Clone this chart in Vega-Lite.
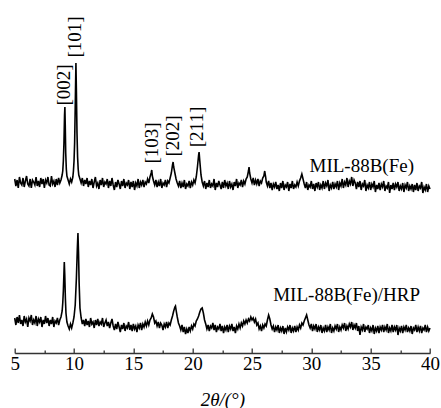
{
"$schema":"https://vega.github.io/schema/vega-lite/v6.json",
"width":415.3,"height":353,
"autosize":{"type":"none"},
"padding":{"left":14.7,"top":0,"right":11,"bottom":55},
"background":"white",
"config":{"view":{"stroke":null},"font":"Times New Roman"},
"datasets":{
"fe":[{"x":5.0,"y":174},{"x":5.1,"y":167},{"x":5.2,"y":173},{"x":5.3,"y":165},{"x":5.4,"y":176},{"x":5.5,"y":170},{"x":5.6,"y":168},{"x":5.7,"y":175},{"x":5.8,"y":166},{"x":5.9,"y":172},
{"x":6.0,"y":177},{"x":6.1,"y":169},{"x":6.2,"y":167},{"x":6.3,"y":174},{"x":6.4,"y":165},{"x":6.5,"y":173},{"x":6.6,"y":171},{"x":6.7,"y":168},{"x":6.8,"y":176},{"x":6.9,"y":167},
{"x":7.0,"y":172},{"x":7.1,"y":166},{"x":7.2,"y":175},{"x":7.3,"y":169},{"x":7.4,"y":174},{"x":7.5,"y":165},{"x":7.6,"y":173},{"x":7.7,"y":170},{"x":7.8,"y":176},{"x":7.9,"y":168},
{"x":8.0,"y":167},{"x":8.1,"y":177},{"x":8.2,"y":169},{"x":8.3,"y":172},{"x":8.4,"y":166},{"x":8.5,"y":174},{"x":8.6,"y":168},{"x":8.7,"y":175},{"x":8.8,"y":170},{"x":8.9,"y":173},
{"x":9.0,"y":178},{"x":9.05,"y":182},{"x":9.1,"y":192},{"x":9.15,"y":210},{"x":9.2,"y":238},{"x":9.23,"y":246},{"x":9.26,"y":228},{"x":9.3,"y":200},{"x":9.35,"y":184},{"x":9.4,"y":177},{"x":9.5,"y":173},{"x":9.6,"y":169},{"x":9.7,"y":174},{"x":9.8,"y":171},{"x":9.9,"y":176},
{"x":9.95,"y":182},{"x":10.0,"y":192},{"x":10.05,"y":210},{"x":10.1,"y":245},{"x":10.16,"y":290},{"x":10.2,"y":262},{"x":10.25,"y":220},{"x":10.3,"y":196},{"x":10.35,"y":184},{"x":10.4,"y":178},{"x":10.5,"y":174},{"x":10.6,"y":170},{"x":10.7,"y":175},{"x":10.8,"y":167},{"x":10.9,"y":173},
{"x":11.0,"y":169},{"x":11.1,"y":175},{"x":11.2,"y":166},{"x":11.3,"y":172},{"x":11.4,"y":168},{"x":11.5,"y":174},{"x":11.6,"y":165},{"x":11.7,"y":171},{"x":11.8,"y":176},{"x":11.9,"y":167},
{"x":12.0,"y":170},{"x":12.1,"y":164},{"x":12.2,"y":173},{"x":12.3,"y":168},{"x":12.4,"y":175},{"x":12.5,"y":166},{"x":12.6,"y":171},{"x":12.7,"y":169},{"x":12.8,"y":174},{"x":12.9,"y":165},
{"x":13.0,"y":172},{"x":13.1,"y":167},{"x":13.2,"y":175},{"x":13.3,"y":168},{"x":13.4,"y":163},{"x":13.5,"y":171},{"x":13.6,"y":166},{"x":13.7,"y":173},{"x":13.8,"y":169},{"x":13.9,"y":164},
{"x":14.0,"y":172},{"x":14.1,"y":167},{"x":14.2,"y":174},{"x":14.3,"y":165},{"x":14.4,"y":170},{"x":14.5,"y":168},{"x":14.6,"y":173},{"x":14.7,"y":164},{"x":14.8,"y":171},{"x":14.9,"y":166},
{"x":15.0,"y":172},{"x":15.1,"y":163},{"x":15.2,"y":170},{"x":15.3,"y":167},{"x":15.4,"y":174},{"x":15.5,"y":165},{"x":15.6,"y":171},{"x":15.7,"y":168},{"x":15.8,"y":173},{"x":15.9,"y":166},
{"x":16.0,"y":171},{"x":16.1,"y":169},{"x":16.2,"y":174},{"x":16.3,"y":170},{"x":16.4,"y":176},{"x":16.5,"y":180},{"x":16.55,"y":183},{"x":16.6,"y":177},{"x":16.7,"y":172},{"x":16.8,"y":168},{"x":16.9,"y":173},
{"x":17.0,"y":166},{"x":17.1,"y":171},{"x":17.2,"y":167},{"x":17.3,"y":174},{"x":17.4,"y":165},{"x":17.5,"y":170},{"x":17.6,"y":168},{"x":17.7,"y":173},{"x":17.8,"y":166},{"x":17.9,"y":172},
{"x":18.0,"y":170},{"x":18.1,"y":175},{"x":18.2,"y":180},{"x":18.3,"y":188},{"x":18.35,"y":191},{"x":18.4,"y":186},{"x":18.5,"y":180},{"x":18.6,"y":174},{"x":18.7,"y":170},{"x":18.8,"y":167},{"x":18.9,"y":172},
{"x":19.0,"y":165},{"x":19.1,"y":170},{"x":19.2,"y":166},{"x":19.3,"y":173},{"x":19.4,"y":164},{"x":19.5,"y":169},{"x":19.6,"y":167},{"x":19.7,"y":172},{"x":19.8,"y":165},{"x":19.9,"y":171},
{"x":20.0,"y":168},{"x":20.1,"y":173},{"x":20.2,"y":170},{"x":20.3,"y":176},{"x":20.4,"y":186},{"x":20.5,"y":198},{"x":20.54,"y":201},{"x":20.6,"y":192},{"x":20.7,"y":178},{"x":20.8,"y":171},{"x":20.9,"y":167},
{"x":21.0,"y":172},{"x":21.1,"y":164},{"x":21.2,"y":170},{"x":21.3,"y":166},{"x":21.4,"y":173},{"x":21.5,"y":165},{"x":21.6,"y":169},{"x":21.7,"y":167},{"x":21.8,"y":174},{"x":21.9,"y":163},
{"x":22.0,"y":170},{"x":22.1,"y":166},{"x":22.2,"y":172},{"x":22.3,"y":168},{"x":22.4,"y":164},{"x":22.5,"y":171},{"x":22.6,"y":165},{"x":22.7,"y":173},{"x":22.8,"y":167},{"x":22.9,"y":170},
{"x":23.0,"y":164},{"x":23.1,"y":172},{"x":23.2,"y":166},{"x":23.3,"y":169},{"x":23.4,"y":163},{"x":23.5,"y":171},{"x":23.6,"y":167},{"x":23.7,"y":174},{"x":23.8,"y":165},{"x":23.9,"y":170},
{"x":24.0,"y":168},{"x":24.1,"y":173},{"x":24.2,"y":166},{"x":24.3,"y":172},{"x":24.4,"y":169},{"x":24.5,"y":174},{"x":24.6,"y":176},{"x":24.7,"y":182},{"x":24.75,"y":186},{"x":24.8,"y":180},{"x":24.9,"y":174},
{"x":25.0,"y":170},{"x":25.1,"y":175},{"x":25.2,"y":168},{"x":25.3,"y":173},{"x":25.4,"y":169},{"x":25.5,"y":174},{"x":25.6,"y":167},{"x":25.7,"y":172},{"x":25.8,"y":170},{"x":25.9,"y":175},
{"x":26.0,"y":177},{"x":26.07,"y":182},{"x":26.15,"y":176},{"x":26.2,"y":171},{"x":26.3,"y":167},{"x":26.4,"y":172},{"x":26.5,"y":165},{"x":26.6,"y":170},{"x":26.7,"y":163},{"x":26.8,"y":169},{"x":26.9,"y":166},
{"x":27.0,"y":171},{"x":27.1,"y":164},{"x":27.2,"y":168},{"x":27.3,"y":162},{"x":27.4,"y":170},{"x":27.5,"y":165},{"x":27.6,"y":172},{"x":27.7,"y":163},{"x":27.8,"y":168},{"x":27.9,"y":166},
{"x":28.0,"y":171},{"x":28.1,"y":162},{"x":28.2,"y":169},{"x":28.3,"y":165},{"x":28.4,"y":172},{"x":28.5,"y":164},{"x":28.6,"y":168},{"x":28.7,"y":166},{"x":28.8,"y":171},{"x":28.9,"y":167},
{"x":29.0,"y":172},{"x":29.1,"y":175},{"x":29.2,"y":179},{"x":29.3,"y":174},{"x":29.4,"y":169},{"x":29.5,"y":165},{"x":29.6,"y":171},{"x":29.7,"y":163},{"x":29.8,"y":168},{"x":29.9,"y":166},
{"x":30.0,"y":172},{"x":30.1,"y":164},{"x":30.2,"y":169},{"x":30.3,"y":162},{"x":30.4,"y":170},{"x":30.5,"y":166},{"x":30.6,"y":171},{"x":30.7,"y":163},{"x":30.8,"y":168},{"x":30.9,"y":165},
{"x":31.0,"y":172},{"x":31.1,"y":164},{"x":31.2,"y":170},{"x":31.3,"y":167},{"x":31.4,"y":173},{"x":31.5,"y":162},{"x":31.6,"y":168},{"x":31.7,"y":165},{"x":31.8,"y":171},{"x":31.9,"y":164},
{"x":32.0,"y":169},{"x":32.1,"y":166},{"x":32.2,"y":172},{"x":32.3,"y":163},{"x":32.4,"y":170},{"x":32.5,"y":167},{"x":32.6,"y":174},{"x":32.7,"y":165},{"x":32.8,"y":171},{"x":32.9,"y":168},
{"x":33.0,"y":175},{"x":33.1,"y":166},{"x":33.2,"y":172},{"x":33.3,"y":169},{"x":33.4,"y":176},{"x":33.5,"y":167},{"x":33.6,"y":173},{"x":33.7,"y":170},{"x":33.8,"y":164},{"x":33.9,"y":171},
{"x":34.0,"y":166},{"x":34.1,"y":172},{"x":34.2,"y":163},{"x":34.3,"y":169},{"x":34.4,"y":167},{"x":34.5,"y":173},{"x":34.6,"y":162},{"x":34.7,"y":168},{"x":34.8,"y":165},{"x":34.9,"y":171},
{"x":35.0,"y":163},{"x":35.1,"y":169},{"x":35.2,"y":166},{"x":35.3,"y":172},{"x":35.4,"y":161},{"x":35.5,"y":168},{"x":35.6,"y":164},{"x":35.7,"y":170},{"x":35.8,"y":163},{"x":35.9,"y":169},
{"x":36.0,"y":166},{"x":36.1,"y":172},{"x":36.2,"y":162},{"x":36.3,"y":167},{"x":36.4,"y":165},{"x":36.5,"y":171},{"x":36.6,"y":160},{"x":36.7,"y":168},{"x":36.8,"y":164},{"x":36.9,"y":170},
{"x":37.0,"y":163},{"x":37.1,"y":169},{"x":37.2,"y":166},{"x":37.3,"y":171},{"x":37.4,"y":162},{"x":37.5,"y":167},{"x":37.6,"y":164},{"x":37.7,"y":170},{"x":37.8,"y":161},{"x":37.9,"y":168},
{"x":38.0,"y":165},{"x":38.1,"y":171},{"x":38.2,"y":162},{"x":38.3,"y":167},{"x":38.4,"y":164},{"x":38.5,"y":169},{"x":38.6,"y":161},{"x":38.7,"y":168},{"x":38.8,"y":163},{"x":38.9,"y":170},
{"x":39.0,"y":162},{"x":39.1,"y":167},{"x":39.2,"y":165},{"x":39.3,"y":171},{"x":39.4,"y":160},{"x":39.5,"y":166},{"x":39.6,"y":163},{"x":39.7,"y":169},{"x":39.8,"y":161},{"x":39.9,"y":167},{"x":40.0,"y":164}],
"hrp":[{"x":5.0,"y":35},{"x":5.1,"y":28},{"x":5.2,"y":36},{"x":5.3,"y":30},{"x":5.4,"y":38},{"x":5.5,"y":29},{"x":5.6,"y":33},{"x":5.7,"y":27},{"x":5.8,"y":37},{"x":5.9,"y":31},
{"x":6.0,"y":34},{"x":6.1,"y":26},{"x":6.2,"y":35},{"x":6.3,"y":32},{"x":6.4,"y":38},{"x":6.5,"y":28},{"x":6.6,"y":33},{"x":6.7,"y":30},{"x":6.8,"y":37},{"x":6.9,"y":27},
{"x":7.0,"y":34},{"x":7.1,"y":31},{"x":7.2,"y":36},{"x":7.3,"y":26},{"x":7.4,"y":33},{"x":7.5,"y":29},{"x":7.6,"y":37},{"x":7.7,"y":30},{"x":7.8,"y":35},{"x":7.9,"y":27},
{"x":8.0,"y":33},{"x":8.1,"y":29},{"x":8.2,"y":36},{"x":8.3,"y":26},{"x":8.4,"y":32},{"x":8.5,"y":30},{"x":8.6,"y":35},{"x":8.7,"y":28},{"x":8.8,"y":33},{"x":8.9,"y":36},
{"x":9.0,"y":42},{"x":9.05,"y":50},{"x":9.1,"y":62},{"x":9.15,"y":80},{"x":9.18,"y":91},{"x":9.22,"y":78},{"x":9.27,"y":55},{"x":9.32,"y":40},{"x":9.4,"y":31},{"x":9.5,"y":27},{"x":9.6,"y":24},{"x":9.7,"y":29},{"x":9.8,"y":25},{"x":9.9,"y":30},
{"x":10.0,"y":36},{"x":10.1,"y":48},{"x":10.2,"y":75},{"x":10.28,"y":105},{"x":10.33,"y":120},{"x":10.38,"y":100},{"x":10.43,"y":70},{"x":10.5,"y":45},{"x":10.6,"y":35},{"x":10.7,"y":29},{"x":10.8,"y":33},{"x":10.9,"y":27},
{"x":11.0,"y":34},{"x":11.1,"y":28},{"x":11.2,"y":32},{"x":11.3,"y":26},{"x":11.4,"y":35},{"x":11.5,"y":29},{"x":11.6,"y":31},{"x":11.7,"y":25},{"x":11.8,"y":33},{"x":11.9,"y":28},
{"x":12.0,"y":34},{"x":12.1,"y":27},{"x":12.2,"y":31},{"x":12.3,"y":29},{"x":12.4,"y":35},{"x":12.5,"y":26},{"x":12.6,"y":30},{"x":12.7,"y":33},{"x":12.8,"y":27},{"x":12.9,"y":31},
{"x":13.0,"y":25},{"x":13.1,"y":30},{"x":13.2,"y":34},{"x":13.3,"y":27},{"x":13.4,"y":23},{"x":13.5,"y":29},{"x":13.6,"y":24},{"x":13.7,"y":31},{"x":13.8,"y":26},{"x":13.9,"y":21},
{"x":14.0,"y":28},{"x":14.1,"y":24},{"x":14.2,"y":30},{"x":14.3,"y":22},{"x":14.4,"y":27},{"x":14.5,"y":25},{"x":14.6,"y":31},{"x":14.7,"y":23},{"x":14.8,"y":28},{"x":14.9,"y":22},
{"x":15.0,"y":29},{"x":15.1,"y":24},{"x":15.2,"y":27},{"x":15.3,"y":21},{"x":15.4,"y":28},{"x":15.5,"y":25},{"x":15.6,"y":30},{"x":15.7,"y":23},{"x":15.8,"y":29},{"x":15.9,"y":26},
{"x":16.0,"y":31},{"x":16.1,"y":27},{"x":16.2,"y":32},{"x":16.3,"y":28},{"x":16.4,"y":33},{"x":16.5,"y":35},{"x":16.6,"y":39},{"x":16.7,"y":36},{"x":16.8,"y":30},{"x":16.9,"y":32},
{"x":17.0,"y":27},{"x":17.1,"y":31},{"x":17.2,"y":25},{"x":17.3,"y":30},{"x":17.4,"y":28},{"x":17.5,"y":23},{"x":17.6,"y":29},{"x":17.7,"y":26},{"x":17.8,"y":31},{"x":17.9,"y":25},
{"x":18.0,"y":30},{"x":18.1,"y":28},{"x":18.2,"y":33},{"x":18.3,"y":37},{"x":18.4,"y":42},{"x":18.5,"y":46},{"x":18.55,"y":47},{"x":18.6,"y":43},{"x":18.7,"y":36},{"x":18.8,"y":30},{"x":18.9,"y":27},
{"x":19.0,"y":23},{"x":19.1,"y":28},{"x":19.2,"y":21},{"x":19.3,"y":26},{"x":19.4,"y":19},{"x":19.5,"y":24},{"x":19.6,"y":20},{"x":19.7,"y":26},{"x":19.8,"y":22},{"x":19.9,"y":27},
{"x":20.0,"y":24},{"x":20.1,"y":29},{"x":20.2,"y":27},{"x":20.3,"y":32},{"x":20.4,"y":34},{"x":20.5,"y":37},{"x":20.6,"y":41},{"x":20.7,"y":44},{"x":20.8,"y":45},{"x":20.9,"y":40},
{"x":21.0,"y":33},{"x":21.1,"y":29},{"x":21.2,"y":24},{"x":21.3,"y":28},{"x":21.4,"y":22},{"x":21.5,"y":27},{"x":21.6,"y":25},{"x":21.7,"y":30},{"x":21.8,"y":23},{"x":21.9,"y":28},
{"x":22.0,"y":21},{"x":22.1,"y":26},{"x":22.2,"y":24},{"x":22.3,"y":29},{"x":22.4,"y":22},{"x":22.5,"y":27},{"x":22.6,"y":20},{"x":22.7,"y":26},{"x":22.8,"y":23},{"x":22.9,"y":28},
{"x":23.0,"y":21},{"x":23.1,"y":27},{"x":23.2,"y":24},{"x":23.3,"y":29},{"x":23.4,"y":22},{"x":23.5,"y":26},{"x":23.6,"y":20},{"x":23.7,"y":27},{"x":23.8,"y":24},{"x":23.9,"y":29},
{"x":24.0,"y":25},{"x":24.1,"y":30},{"x":24.2,"y":27},{"x":24.3,"y":32},{"x":24.4,"y":29},{"x":24.5,"y":33},{"x":24.6,"y":30},{"x":24.7,"y":34},{"x":24.8,"y":32},{"x":24.9,"y":36},
{"x":25.0,"y":33},{"x":25.1,"y":35},{"x":25.2,"y":31},{"x":25.3,"y":34},{"x":25.4,"y":28},{"x":25.5,"y":30},{"x":25.6,"y":24},{"x":25.7,"y":27},{"x":25.8,"y":22},{"x":25.9,"y":28},
{"x":26.0,"y":25},{"x":26.1,"y":29},{"x":26.2,"y":27},{"x":26.3,"y":33},{"x":26.4,"y":38},{"x":26.5,"y":34},{"x":26.6,"y":28},{"x":26.7,"y":24},{"x":26.8,"y":27},{"x":26.9,"y":21},
{"x":27.0,"y":26},{"x":27.1,"y":23},{"x":27.2,"y":28},{"x":27.3,"y":20},{"x":27.4,"y":25},{"x":27.5,"y":22},{"x":27.6,"y":27},{"x":27.7,"y":19},{"x":27.8,"y":25},{"x":27.9,"y":21},
{"x":28.0,"y":26},{"x":28.1,"y":23},{"x":28.2,"y":28},{"x":28.3,"y":20},{"x":28.4,"y":25},{"x":28.5,"y":22},{"x":28.6,"y":27},{"x":28.7,"y":21},{"x":28.8,"y":26},{"x":28.9,"y":23},
{"x":29.0,"y":28},{"x":29.1,"y":25},{"x":29.2,"y":30},{"x":29.3,"y":28},{"x":29.4,"y":32},{"x":29.5,"y":35},{"x":29.6,"y":38},{"x":29.7,"y":33},{"x":29.8,"y":28},{"x":29.9,"y":25},
{"x":30.0,"y":29},{"x":30.1,"y":22},{"x":30.2,"y":27},{"x":30.3,"y":24},{"x":30.4,"y":29},{"x":30.5,"y":21},{"x":30.6,"y":26},{"x":30.7,"y":23},{"x":30.8,"y":28},{"x":30.9,"y":20},
{"x":31.0,"y":25},{"x":31.1,"y":22},{"x":31.2,"y":28},{"x":31.3,"y":21},{"x":31.4,"y":26},{"x":31.5,"y":23},{"x":31.6,"y":29},{"x":31.7,"y":20},{"x":31.8,"y":25},{"x":31.9,"y":22},
{"x":32.0,"y":27},{"x":32.1,"y":24},{"x":32.2,"y":29},{"x":32.3,"y":21},{"x":32.4,"y":26},{"x":32.5,"y":23},{"x":32.6,"y":28},{"x":32.7,"y":25},{"x":32.8,"y":30},{"x":32.9,"y":22},
{"x":33.0,"y":27},{"x":33.1,"y":24},{"x":33.2,"y":29},{"x":33.3,"y":26},{"x":33.4,"y":31},{"x":33.5,"y":23},{"x":33.6,"y":28},{"x":33.7,"y":25},{"x":33.8,"y":30},{"x":33.9,"y":22},
{"x":34.0,"y":27},{"x":34.1,"y":18},{"x":34.2,"y":26},{"x":34.3,"y":23},{"x":34.4,"y":29},{"x":34.5,"y":21},{"x":34.6,"y":26},{"x":34.7,"y":24},{"x":34.8,"y":28},{"x":34.9,"y":20},
{"x":35.0,"y":25},{"x":35.1,"y":22},{"x":35.2,"y":28},{"x":35.3,"y":19},{"x":35.4,"y":25},{"x":35.5,"y":22},{"x":35.6,"y":27},{"x":35.7,"y":20},{"x":35.8,"y":26},{"x":35.9,"y":23},
{"x":36.0,"y":28},{"x":36.1,"y":21},{"x":36.2,"y":26},{"x":36.3,"y":23},{"x":36.4,"y":29},{"x":36.5,"y":20},{"x":36.6,"y":25},{"x":36.7,"y":22},{"x":36.8,"y":28},{"x":36.9,"y":21},
{"x":37.0,"y":26},{"x":37.1,"y":23},{"x":37.2,"y":28},{"x":37.3,"y":18},{"x":37.4,"y":25},{"x":37.5,"y":22},{"x":37.6,"y":27},{"x":37.7,"y":20},{"x":37.8,"y":26},{"x":37.9,"y":23},
{"x":38.0,"y":28},{"x":38.1,"y":21},{"x":38.2,"y":25},{"x":38.3,"y":22},{"x":38.4,"y":27},{"x":38.5,"y":19},{"x":38.6,"y":25},{"x":38.7,"y":23},{"x":38.8,"y":28},{"x":38.9,"y":21},
{"x":39.0,"y":26},{"x":39.1,"y":22},{"x":39.2,"y":27},{"x":39.3,"y":20},{"x":39.4,"y":25},{"x":39.5,"y":23},{"x":39.6,"y":28},{"x":39.7,"y":21},{"x":39.8,"y":26},{"x":39.9,"y":22},{"x":40.0,"y":25}],
"peaks":[{"x":9.12,"y":268,"t":"[002]"},{"x":10.08,"y":316,"t":"[101]"},{"x":16.56,"y":210,"t":"[103]"},{"x":18.33,"y":217,"t":"[202]"},{"x":20.33,"y":226,"t":"[211]"}],
"names":[{"x":34.25,"y":181,"t":"MIL-88B(Fe)"},{"x":32.97,"y":52,"t":"MIL-88B(Fe)/HRP"}]
},
"layer":[
{"data":{"name":"fe"},"mark":{"type":"line","color":"black","strokeWidth":1.6},
"encoding":{
"x":{"field":"x","type":"quantitative","scale":{"domain":[5,40],"nice":false,"zero":false},
"axis":{"orient":"bottom","values":[5,10,15,20,25,30,35,40],"tickSize":-5,"tickWidth":1.3,"tickColor":"#333","domainColor":"#333","domainWidth":1.3,"labelFont":"Times New Roman","labelFontSize":19,"labelColor":"black","labelPadding":6,"labelFlush":false,"labelOverlap":false,"grid":false,"title":"2θ/(°)","titleFont":"Times New Roman","titleFontSize":19,"titleFontWeight":"normal","titleFontStyle":"italic","titleColor":"black","titlePadding":17}},
"y":{"field":"y","type":"quantitative","scale":{"domain":[0,353],"nice":false,"zero":false},"axis":null}}},
{"data":{"name":"hrp"},"mark":{"type":"line","color":"black","strokeWidth":1.6},
"encoding":{
"x":{"field":"x","type":"quantitative","axis":{"orient":"bottom","values":[7.5,12.5,17.5,22.5,27.5,32.5,37.5],"tickSize":-3,"tickWidth":1.3,"tickColor":"#333","labels":false,"domain":false,"grid":false,"title":null}},
"y":{"field":"y","type":"quantitative","axis":null}}},
{"data":{"name":"peaks"},"mark":{"type":"text","font":"Times New Roman","fontSize":19,"angle":270,"align":"center","baseline":"middle","color":"black"},
"encoding":{"x":{"field":"x","type":"quantitative","axis":null},"y":{"field":"y","type":"quantitative","axis":null},"text":{"field":"t"}}},
{"data":{"name":"names"},"mark":{"type":"text","font":"Times New Roman","fontSize":19,"align":"center","baseline":"alphabetic","color":"black"},
"encoding":{"x":{"field":"x","type":"quantitative","axis":null},"y":{"field":"y","type":"quantitative","axis":null},"text":{"field":"t"}}}
],
"resolve":{"axis":{"x":"independent"}}
}
